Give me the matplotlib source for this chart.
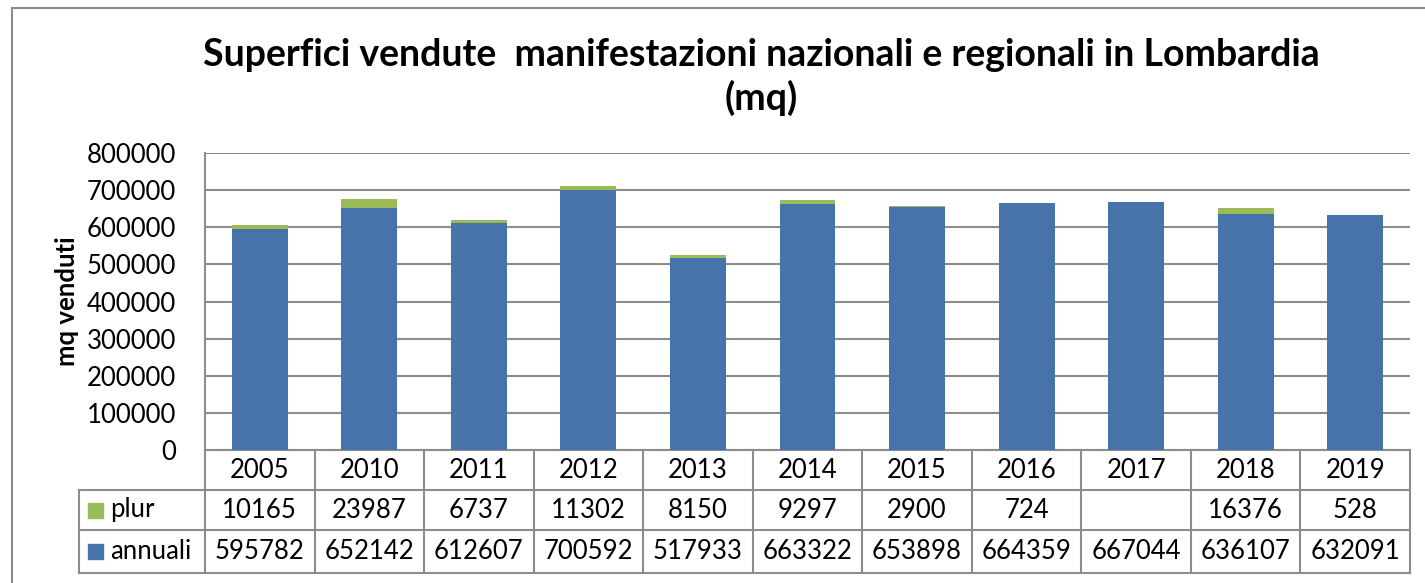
import numpy as np
import matplotlib.pyplot as plt
from matplotlib.lines import Line2D
from matplotlib.patches import Rectangle
import matplotlib.transforms as mtransforms

plt.rcParams['font.family'] = ['Lato', 'DejaVu Sans']

# dati
anni = ['2005', '2010', '2011', '2012', '2013', '2014', '2015', '2016', '2017', '2018', '2019']
annuali = [595782, 652142, 612607, 700592, 517933, 663322, 653898, 664359, 667044, 636107, 632091]
plur = [10165, 23987, 6737, 11302, 8150, 9297, 2900, 724, None, 16376, 528]

col_annuali = '#4673A9'
col_plur = '#9BBB59'
col_line = '#8C8C8C'
fs = 18.5

W, H = 1425, 583
fig = plt.figure(figsize=(W / 100, H / 100), dpi=100)
ax = fig.add_axes([205 / W, 1 - 450 / H, (1410 - 205) / W, (450 - 153) / H])

x = np.arange(len(anni))
plur_val = np.array([0 if v is None else v for v in plur])
ax.bar(x, annuali, width=0.51, color=col_annuali, zorder=3)
ax.bar(x, plur_val, width=0.51, bottom=annuali, color=col_plur, zorder=3)

ax.set_xlim(-0.5, len(anni) - 0.5)
ax.set_ylim(0, 800000)
ax.set_yticks(np.arange(0, 800001, 100000))
ax.set_yticklabels([str(v) for v in range(0, 800001, 100000)])
ax.tick_params(axis='y', length=0, pad=21, labelsize=fs)
ax.set_xticks([])
ax.grid(axis='y', color=col_line, linewidth=1.5, zorder=0)
for s in ['top', 'right', 'bottom']:
    ax.spines[s].set_visible(False)
ax.spines['left'].set_color(col_line)
ax.spines['left'].set_linewidth(1.5)
ax.set_ylabel('mq venduti', fontsize=fs, fontweight='bold')
ax.yaxis.set_label_coords((79 - 205) / 1205, 0.5)

# tabella dati sotto il grafico
trans = mtransforms.blended_transform_factory(ax.transData, ax.transAxes)
row_h = 40 / 297
y0 = 0
y1 = -row_h
y2 = -2 * row_h
y3 = -(573 - 450) / 297
leg_left = (79 - 205) / 1205
lkw = dict(color=col_line, linewidth=1.5, clip_on=False)

# linee orizzontali
ax.plot([-0.5, len(anni) - 0.5], [y0, y0], transform=trans, **lkw)
for yy in [y1, y2, y3]:
    ax.add_line(Line2D([leg_left, 1], [yy, yy], transform=ax.transAxes, **lkw))
# linee verticali
for i in range(len(anni) + 1):
    ax.plot([i - 0.5, i - 0.5], [y0, y3], transform=trans, **lkw)
ax.add_line(Line2D([leg_left, leg_left], [y1, y3], transform=ax.transAxes, **lkw))

for i, a in enumerate(anni):
    ax.text(i, (y0 + y1) / 2, a, transform=trans, ha='center', va='center', fontsize=fs)
    if plur[i] is not None:
        ax.text(i, (y1 + y2) / 2, str(plur[i]), transform=trans, ha='center', va='center', fontsize=fs)
    ax.text(i, (y2 + y3) / 2, str(annuali[i]), transform=trans, ha='center', va='center', fontsize=fs)

# legenda nella tabella
sq_w = 15 / 1205
sq_h = 15 / 297
for (yc, lab, col) in [((y1 + y2) / 2, 'plur', col_plur), ((y2 + y3) / 2, 'annuali', col_annuali)]:
    ax.add_patch(Rectangle(((88 - 205) / 1205, yc - sq_h / 2), sq_w, sq_h, transform=ax.transAxes,
                           color=col, clip_on=False))
    ax.text((110 - 205) / 1205, yc, lab, transform=ax.transAxes, ha='left', va='center', fontsize=fs)

# titolo
fig.text(761 / W, 1 - 77 / H, 'Superfici vendute  manifestazioni nazionali e regionali in Lombardia\n(mq)',
         ha='center', va='center', fontsize=27, fontweight='bold', linespacing=1.25)

# cornice esterna
fig.add_artist(Line2D([12 / W, 12 / W], [0, 1 - 8 / H], transform=fig.transFigure, color=col_line, linewidth=1.5))
fig.add_artist(Line2D([12 / W, 1], [1 - 8 / H, 1 - 8 / H], transform=fig.transFigure, color=col_line, linewidth=1.5))

fig.savefig('out.png', dpi=100, facecolor='white')
